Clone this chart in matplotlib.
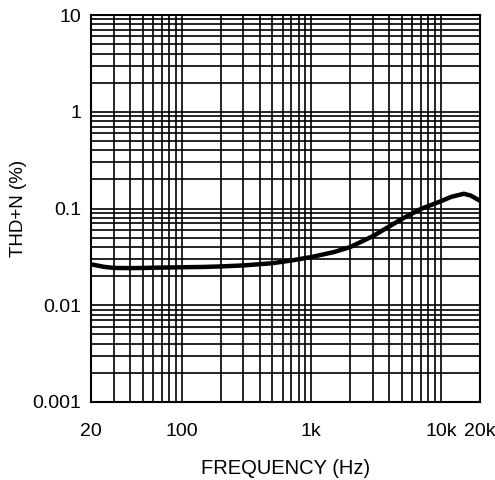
import matplotlib
matplotlib.use("Agg")
import matplotlib.pyplot as plt
from matplotlib.ticker import FixedLocator, NullFormatter, FixedFormatter
import numpy as np

freq_hz = [20, 25, 30, 40, 50, 70, 100, 150, 200, 300, 500, 700, 1000, 1500, 2000, 3000, 5000, 7000, 10000, 12000, 15000, 17000, 20000]
thdn_pct = [0.0265, 0.0250, 0.0243, 0.0242, 0.0243, 0.0245, 0.0247, 0.0249, 0.0252, 0.0258, 0.0272, 0.0290, 0.0315, 0.0355, 0.0400, 0.0520, 0.0780, 0.0990, 0.1190, 0.1320, 0.1420, 0.1360, 0.1200]

x_ticks = [20, 100, 1000, 10000, 20000]
x_tick_labels = ["20", "100", "1k", "10k", "20k"]
y_ticks = [0.001, 0.01, 0.1, 1, 10]
y_tick_labels = ["0.001", "0.01", "0.1", "1", "10"]

plt.rcParams['font.family'] = ['Liberation Sans', 'DejaVu Sans']

fig = plt.figure(figsize=(4.95, 4.8), dpi=100)
ax = fig.add_axes([91/495, 78/480, 389/495, 387/480])
ax.set_xscale('log')
ax.set_yscale('log')
ax.set_xlim(20, 20000)
ax.set_ylim(0.001, 10)

ax.plot(freq_hz, thdn_pct, color='black', lw=3.2, solid_capstyle='butt', zorder=3)

ax.xaxis.set_major_locator(FixedLocator(x_ticks))
ax.xaxis.set_major_formatter(FixedFormatter(x_tick_labels))
minor_x = [m * d for d in [10, 100, 1000] for m in range(2, 10) if 20 < m * d < 10000]
ax.xaxis.set_minor_locator(FixedLocator(minor_x))
ax.xaxis.set_minor_formatter(NullFormatter())

ax.yaxis.set_major_locator(FixedLocator(y_ticks))
ax.yaxis.set_major_formatter(FixedFormatter(y_tick_labels))
minor_y = [m * d for d in [0.001, 0.01, 0.1, 1] for m in range(2, 10)]
ax.yaxis.set_minor_locator(FixedLocator(minor_y))
ax.yaxis.set_minor_formatter(NullFormatter())

ax.grid(True, which='both', color='black', lw=1.2)
for s in ax.spines.values():
    s.set_linewidth(1.5)
ax.tick_params(which='both', length=0)
ax.tick_params(axis='x', pad=15, labelsize=14)
ax.tick_params(axis='y', pad=7, labelsize=14)

ax.set_xlabel("FREQUENCY (Hz)", fontsize=14.5, labelpad=13.5)
ax.set_ylabel("THD+N (%)", fontsize=13.5, labelpad=4)

fig.savefig("out.png", dpi=100)
